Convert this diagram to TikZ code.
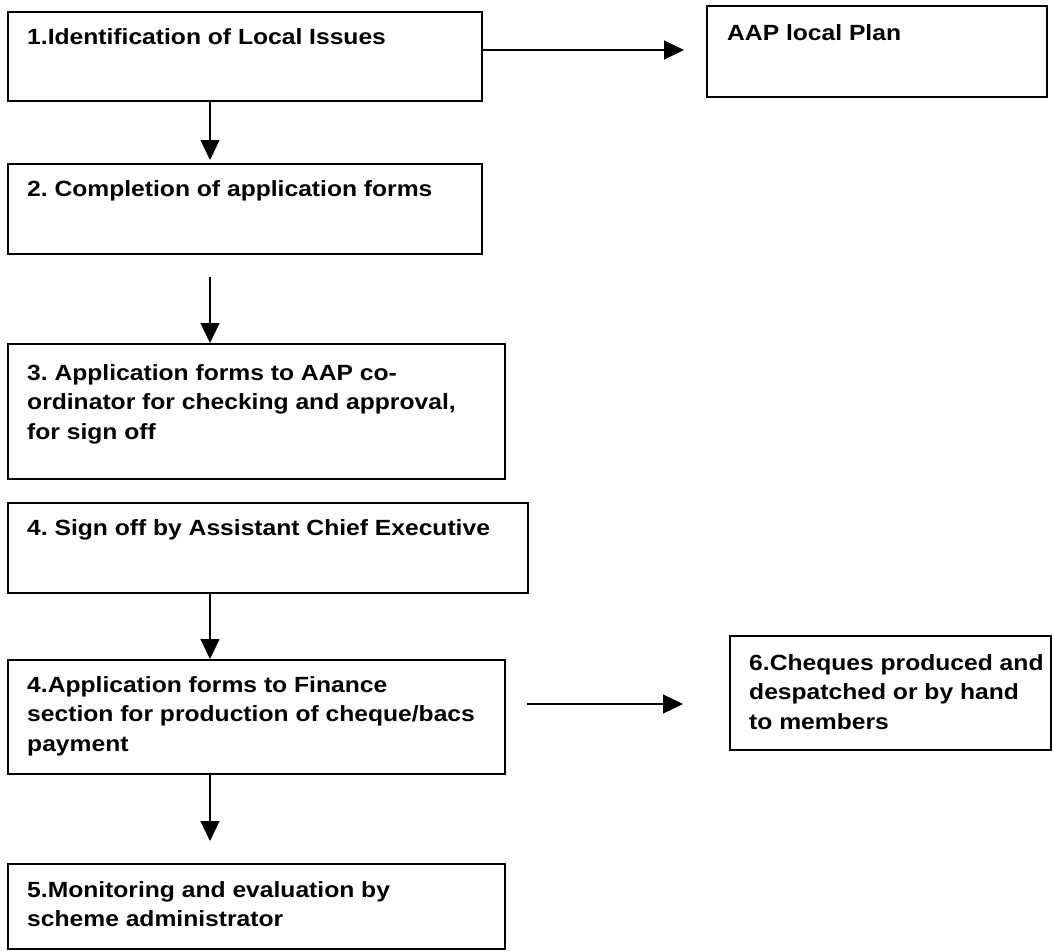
\documentclass[tikz,border=0pt]{standalone}
\usepackage{fontspec}
\setmainfont[FakeStretch=1.12]{Liberation Sans}
\usetikzlibrary{arrows.meta,calc}
\frenchspacing
\tikzset{
  box/.style={draw, line width=1.5pt, inner sep=0pt, anchor=north west},
  lbl/.style={inner sep=0pt, anchor=base west, font=\bfseries\fontsize{22}{29.5}\selectfont},
  conn/.style={line width=1.2pt, -{Triangle[length=20pt,width=19pt]}}
}
\newcommand{\lines}[1]{\parbox[t]{600pt}{\raggedright\frenchspacing #1}}
\begin{document}
\begin{tikzpicture}[x=1pt,y=-1pt]
\useasboundingbox (0,0) rectangle (1053,951);
% boxes
\node[box, minimum width=474pt, minimum height=89pt] (b1) at (7,11) {};
\node[box, minimum width=340pt, minimum height=91pt] (aap) at (706,5) {};
\node[box, minimum width=474pt, minimum height=90pt] (b2) at (7,163) {};
\node[box, minimum width=497pt, minimum height=135pt] (b3) at (7,343) {};
\node[box, minimum width=520pt, minimum height=90pt] (b4) at (7,502) {};
\node[box, minimum width=497pt, minimum height=114pt] (b4b) at (7,659) {};
\node[box, minimum width=321pt, minimum height=114pt] (b6) at (729,635) {};
\node[box, minimum width=497pt, minimum height=85pt] (b5) at (7,863) {};
% labels
\node[lbl] (t1) at (27,44) {\lines{1.Identification of Local Issues}};
\node[lbl] (taap) at (727,40) {\lines{AAP local Plan}};
\node[lbl] (t2) at (27,196) {\lines{2. Completion of application forms}};
\node[lbl] (t3) at (27,380) {\lines{3. Application forms to AAP co-\\ordinator for checking and approval,\\for sign off}};
\node[lbl] (t4) at (27,535) {\lines{4. Sign off by Assistant Chief Executive}};
\node[lbl] (t4b) at (27,692) {\lines{4.Application forms to Finance\\section for production of cheque/bacs\\payment}};
\node[lbl] (t6) at (749,670) {\lines{6.Cheques produced and\\despatched or by hand\\to members}};
\node[lbl] (t5) at (27,897) {\lines{5.Monitoring and evaluation by\\scheme administrator}};
% connectors
\coordinate (ax) at (210,0);
\coordinate (ay1) at (0,50);
\coordinate (ay2) at (0,704);
\draw[conn] (ax |- b1.south) -- ($(ax |- b2.north)+(0,-3)$);
\draw[conn] ($(ax |- b2.south)+(0,22)$) -- (ax |- b3.north);
\draw[conn] (ax |- b4.south) -- (ax |- b4b.north);
\draw[conn] (ax |- b4b.south) -- ($(ax |- b5.north)+(0,-22)$);
\draw[conn] (b1.east |- ay1) -- ($(aap.west |- ay1)+(-22,0)$);
\draw[conn] ($(b4b.east |- ay2)+(21,0)$) -- ($(b6.west |- ay2)+(-46,0)$);
\end{tikzpicture}
\end{document}
